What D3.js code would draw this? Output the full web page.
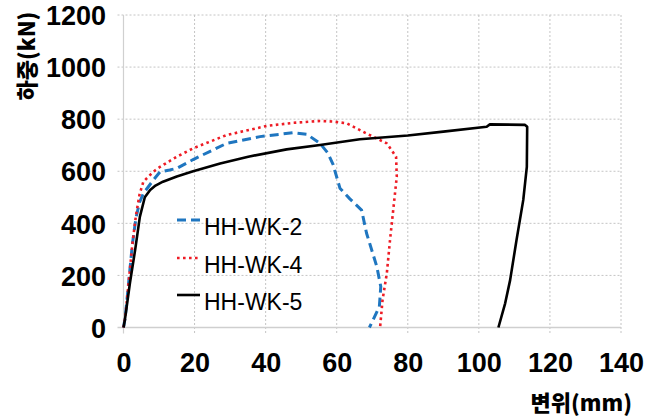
<!DOCTYPE html>
<html><head><meta charset="utf-8">
<script src="https://cdn.jsdelivr.net/npm/d3@7"></script>
<style>
body{margin:0;background:#fff;}
svg{display:block;}
</style></head>
<body><svg id="c" width="659" height="419"></svg>
<script>
const xTicks = [0,20,40,60,80,100,120,140];
const yTicks = [0,200,400,600,800,1000,1200];
const seriesNames = ["HH-WK-2","HH-WK-4","HH-WK-5"];
const xLabel = "변위(mm)";
const yLabel = "하중(kN)";

const x2 = [0,0.5,1.5,2.5,3.5,4.5,5.6,8.4,10.3,13,15,19.6,29,38.4,47.8,51.6,55.3,57.5,59,60.9,63.7,67,68.4,71.3,72.4,72,69.2];
const y2 = [0,40,180,320,420,480,515,566,598,605,611,645,707,733,748,742,707,670,625,535,494,451,362,233,157,80,0];

const x4 = [0,0.5,1.5,2.5,3.5,4.5,5.6,8.4,10.3,15,19.6,29,40.3,47.8,55.3,59,62.8,68.4,74.1,76.7,76.9,75.9,75,74.1,72.9,72.2];
const y4 = [0,40,180,320,430,510,560,598,617,656,688,739,774,786,793,791,784,745,707,656,579,451,336,208,106,0];

const x5 = [0,0.4,1.8,3.3,4.6,6.0,7.5,9,11.1,15,19.6,27.2,35.1,45.9,55.3,66.5,80,90,102.2,103.1,113.0,113.6,113.5,112.5,110.6,108.8,107.4,105.5];
const y5 = [0,30,170,300,425,500,528,545,560,580,600,630,656,684,701,723,737,752,771,780,778,771,617,490,336,182,93,0];

const svg = d3.select("#c");
const x = d3.scaleLinear().domain([0,140]).range([123.5,621]);
const y = d3.scaleLinear().domain([0,1200]).range([327.5,15]);

// gridlines
const grid = svg.append("g");
grid.selectAll("line.v").data(xTicks.slice(1)).join("line")
  .attr("x1",d=>x(d)).attr("x2",d=>x(d)).attr("y1",y(1200)).attr("y2",y(0)+6)
  .attr("stroke","#c4c4c4").attr("stroke-width",1).attr("stroke-dasharray","2,2");
grid.selectAll("line.h").data(yTicks.slice(1)).join("line")
  .attr("x1",x(0)-6).attr("x2",x(140)).attr("y1",d=>y(d)).attr("y2",d=>y(d))
  .attr("stroke","#c4c4c4").attr("stroke-width",1).attr("stroke-dasharray","2,2");
// axis lines
svg.append("line").attr("x1",x(0)).attr("x2",x(0)).attr("y1",y(1200)).attr("y2",y(0)+6)
  .attr("stroke","#d0d0d0").attr("stroke-width",1.2);
svg.append("line").attr("x1",x(0)-6).attr("x2",x(140)).attr("y1",y(0)).attr("y2",y(0))
  .attr("stroke","#cfcfcf").attr("stroke-width",1.5);

// tick labels via axes
const tickFont = "'Liberation Sans Narrow', 'Arial Narrow', sans-serif";
const ax = svg.append("g").attr("transform",`translate(0,${y(0)})`)
  .call(d3.axisBottom(x).tickValues(xTicks).tickSize(0).tickPadding(0).tickFormat(d3.format("d")));
ax.select(".domain").remove();
ax.selectAll("text").attr("y",44).attr("dy",0)
  .style("font-family",tickFont).style("font-weight","bold").style("font-size","27px").attr("fill","#000");
const ay = svg.append("g").attr("transform",`translate(106,0)`)
  .call(d3.axisLeft(y).tickValues(yTicks).tickSize(0).tickPadding(0).tickFormat(d3.format("d")));
ay.select(".domain").remove();
ay.selectAll("text").attr("x",0).attr("dy","0.36em")
  .style("font-family",tickFont).style("font-weight","bold").style("font-size","27px").attr("fill","#000");

// axis titles
svg.append("text").attr("transform","translate(35,56) rotate(-90)")
  .attr("text-anchor","middle")
  .style("font-family","'Noto Sans CJK KR', sans-serif").style("font-weight","900").style("font-size","22px")
  .text(yLabel);
svg.append("text").attr("x",632).attr("y",411).attr("text-anchor","end")
  .style("font-family","'Noto Sans CJK KR', sans-serif").style("font-weight","900").style("font-size","22px")
  .text(xLabel);

// series
const styles = [
  {xs:x2, ys:y2, color:"#1f76c0", width:3, dash:"9,5", cap:"butt"},
  {xs:x4, ys:y4, color:"#ee1c25", width:2.6, dash:"2.6,3.4", cap:"butt"},
  {xs:x5, ys:y5, color:"#000000", width:2.6, dash:null, cap:"butt"}
];
const line = d3.line().x(d=>x(d[0])).y(d=>y(d[1]));
styles.forEach(s=>{
  const pts = s.xs.map((v,i)=>[v,s.ys[i]]);
  svg.append("path").datum(pts).attr("d",line).attr("fill","none")
    .attr("stroke",s.color).attr("stroke-width",s.width)
    .attr("stroke-dasharray",s.dash).attr("stroke-linejoin","round").attr("stroke-linecap",s.cap);
});

// legend
const legY = [220,258,295];
const leg = svg.append("g");
seriesNames.forEach((n,i)=>{
  const s = styles[i];
  leg.append("line").attr("x1",177).attr("x2",200).attr("y1",legY[i]).attr("y2",legY[i])
    .attr("stroke",s.color).attr("stroke-width",s.width).attr("stroke-dasharray",s.dash);
  leg.append("text").attr("x",204).attr("y",legY[i]+15)
    .style("font-family","'Liberation Sans', Arial, sans-serif").style("font-size","23px").attr("fill","#000")
    .text(n);
});
</script></body></html>
